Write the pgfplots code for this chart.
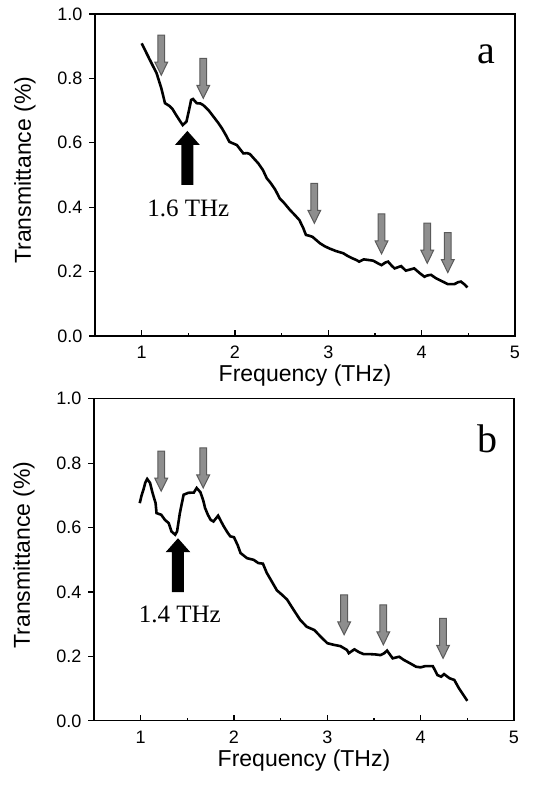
\documentclass[border=0pt]{standalone}
\usepackage{fontspec}
\setmainfont{Liberation Serif}
\setsansfont{Liberation Sans}
\usepackage{pgfplots}
\pgfplotsset{compat=1.18}

\definecolor{arrowgray}{HTML}{8E8E8E}
\definecolor{arrowedge}{HTML}{5A5A5A}

% small gray arrow pointing down, tip at (x,y)
\newcommand{\grayarrow}[2]{%
  \draw[fill=arrowgray, draw=arrowedge, line width=0.5pt]
    (axis cs:#1,#2) -- ++(-3.2pt,6.5pt) -- ++(1.5pt,0pt) -- ++(0pt,13.5pt)
    -- ++(3.4pt,0pt) -- ++(0pt,-13.5pt) -- ++(1.5pt,0pt) -- cycle;}
% big black arrow pointing up, tip at (x,y)
\newcommand{\blackarrow}[2]{%
  \fill[black]
    (axis cs:#1,#2) -- ++(-6.2pt,-7pt) -- ++(3.2pt,0pt) -- ++(0pt,-20pt)
    -- ++(6pt,0pt) -- ++(0pt,20pt) -- ++(3.2pt,0pt) -- cycle;}

\pgfplotsset{
  panel/.style={
    scale only axis,
    width=210pt, height=161pt,
    xmin=0.5, xmax=5, ymin=0, ymax=1,
    xtick={1,2,3,4,5},
    minor x tick num=1,
    ytick={0,0.2,0.4,0.6,0.8,1.0},
    xtick pos=bottom, ytick pos=left,
    xtick align=inside, ytick align=outside,
    major tick length=2.8pt, minor tick length=1.6pt,
    axis line style={line width=0.6pt},
    tick style={line width=0.6pt, black},
    /pgf/number format/assume math mode=true,
    tick label style={font=\sffamily\fontsize{9}{10}\selectfont},
    x tick label style={yshift=-1.5pt},
    yticklabel style={/pgf/number format/fixed,
      /pgf/number format/fixed zerofill,
      /pgf/number format/precision=1},
    every axis y label/.style={at={(axis description cs:-0.167,0.515)},
      rotate=90, anchor=center},
    every axis x label/.style={at={(axis description cs:0.5,-0.124)},
      anchor=center},
    label style={font=\sffamily\fontsize{11.5}{13}\selectfont},
    xlabel={Frequency (THz)},
    ylabel={Transmittance (\%)},
    clip=false,
  },
}

\begin{document}
\begin{tikzpicture}
\useasboundingbox (0,0) rectangle (273pt,-393pt);

\begin{axis}[panel, anchor=south west, at={(47.5pt,-168pt)}]
  \addplot[black, line width=1.3pt] coordinates {
    (1.00,0.909) (1.08,0.862) (1.16,0.816) (1.21,0.770) (1.25,0.723)
    (1.30,0.714) (1.33,0.705) (1.37,0.686) (1.41,0.668) (1.44,0.655)
    (1.48,0.666) (1.51,0.705) (1.53,0.733) (1.55,0.736) (1.59,0.723)
    (1.63,0.722) (1.66,0.717) (1.72,0.700) (1.77,0.681) (1.82,0.662)
    (1.86,0.645) (1.90,0.625) (1.94,0.603) (1.98,0.598) (2.02,0.593)
    (2.06,0.578) (2.09,0.567) (2.13,0.568) (2.16,0.565) (2.20,0.552)
    (2.25,0.536) (2.30,0.515) (2.34,0.490) (2.38,0.476) (2.43,0.455)
    (2.48,0.427) (2.53,0.412) (2.59,0.391) (2.64,0.376) (2.69,0.360)
    (2.73,0.336) (2.76,0.314) (2.80,0.311) (2.83,0.308) (2.87,0.298)
    (2.91,0.288) (2.96,0.279) (3.01,0.272) (3.08,0.264) (3.16,0.257)
    (3.21,0.248) (3.26,0.241) (3.30,0.236) (3.33,0.231) (3.38,0.238)
    (3.43,0.236) (3.48,0.234) (3.53,0.226) (3.57,0.220) (3.61,0.228)
    (3.64,0.231) (3.68,0.218) (3.71,0.210) (3.75,0.214) (3.78,0.217)
    (3.83,0.203) (3.87,0.206) (3.92,0.210) (3.98,0.195) (4.03,0.184)
    (4.06,0.188) (4.10,0.190) (4.15,0.180) (4.19,0.174) (4.24,0.167)
    (4.28,0.161) (4.35,0.161) (4.39,0.167) (4.42,0.169) (4.46,0.160)
    (4.49,0.151)
  };
  \grayarrow{1.21}{0.81}
  \grayarrow{1.66}{0.738}
  \grayarrow{2.85}{0.35}
  \grayarrow{3.57}{0.255}
  \grayarrow{4.06}{0.226}
  \grayarrow{4.28}{0.197}
  \blackarrow{1.49}{0.637}
  \node[font=\fontsize{12.5}{14}\selectfont] at (axis cs:1.50,0.397) {1.6 THz};
  \node[font=\fontsize{20}{22}\selectfont, anchor=base]
    at (axis description cs:0.933,0.847) {a};
\end{axis}

\begin{axis}[panel, anchor=south west, at={(47pt,-360.4pt)}]
  \addplot[black, line width=1.3pt] coordinates {
    (0.99,0.676) (1.01,0.700) (1.03,0.718) (1.05,0.740) (1.07,0.751)
    (1.10,0.739) (1.13,0.705) (1.16,0.676) (1.17,0.645) (1.22,0.640)
    (1.26,0.624) (1.30,0.614) (1.33,0.588) (1.37,0.578) (1.39,0.588)
    (1.42,0.645) (1.46,0.702) (1.51,0.708) (1.57,0.709) (1.60,0.723)
    (1.64,0.710) (1.67,0.685) (1.69,0.661) (1.72,0.640) (1.75,0.624)
    (1.78,0.619) (1.83,0.637) (1.86,0.620) (1.89,0.604) (1.93,0.585)
    (1.96,0.573) (2.00,0.570) (2.04,0.545) (2.07,0.521) (2.14,0.505)
    (2.21,0.500) (2.26,0.490) (2.31,0.488) (2.35,0.460) (2.40,0.435)
    (2.46,0.405) (2.52,0.390) (2.57,0.376) (2.64,0.344) (2.71,0.313)
    (2.78,0.292) (2.86,0.282) (2.93,0.261) (3.00,0.241) (3.07,0.236)
    (3.14,0.232) (3.21,0.220) (3.23,0.210) (3.29,0.222) (3.34,0.213)
    (3.39,0.207) (3.46,0.207) (3.52,0.206) (3.57,0.204) (3.61,0.210)
    (3.64,0.218) (3.70,0.194) (3.77,0.199) (3.82,0.189) (3.89,0.178)
    (3.95,0.168) (4.00,0.166) (4.05,0.170) (4.13,0.170) (4.18,0.142)
    (4.22,0.137) (4.25,0.145) (4.31,0.132) (4.36,0.127) (4.41,0.101)
    (4.47,0.075) (4.50,0.062)
  };
  \grayarrow{1.22}{0.713}
  \grayarrow{1.67}{0.723}
  \grayarrow{3.18}{0.267}
  \grayarrow{3.60}{0.236}
  \grayarrow{4.24}{0.194}
  \blackarrow{1.40}{0.567}
  \node[font=\fontsize{12.5}{14}\selectfont] at (axis cs:1.42,0.329) {1.4 THz};
  \node[font=\fontsize{20}{22}\selectfont, anchor=base]
    at (axis description cs:0.937,0.832) {b};
\end{axis}
\end{tikzpicture}
\end{document}
